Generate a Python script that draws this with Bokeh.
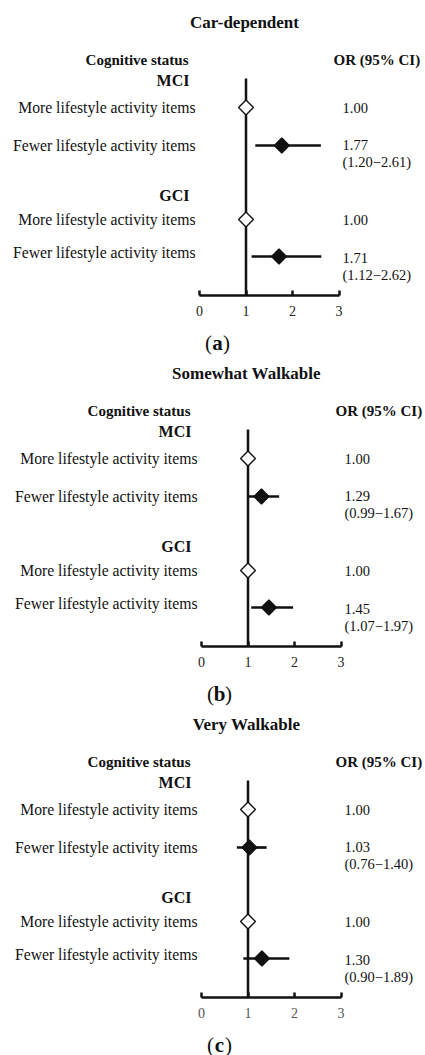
import math
from bokeh.plotting import figure
from bokeh.models import Range1d, LinearAxis, FixedTicker
from bokeh.layouts import column
from bokeh.core.properties import value
from bokeh.embed import file_html
from bokeh.resources import INLINE

# ---------------- data ----------------
panel_titles = ["Car-dependent", "Somewhat Walkable", "Very Walkable"]
panel_tags = ["a", "b", "c"]
group_names = ["MCI", "GCI"]
row_labels = ["More lifestyle activity items", "Fewer lifestyle activity items"]
header_left = "Cognitive status"
header_right = "OR (95% CI)"
ref_or = 1.00
mci_or = [1.77, 1.29, 1.03]
mci_lo = [1.20, 0.99, 0.76]
mci_hi = [2.61, 1.67, 1.40]
gci_or = [1.71, 1.45, 1.30]
gci_lo = [1.12, 1.07, 0.90]
gci_hi = [2.62, 1.97, 1.89]
x_ticks = [0, 1, 2, 3]

# ---------------- layout (pixels) ----------------
W = 425
FIG_H = [358, 351, 346]
Y_SHIFT = [0, 7, 7]        # panel-local px hidden above each figure's top edge
PX = 46.5                  # px per OR unit
X0_PX = [199, 201, 201]    # px of OR = 0 in each panel
Y_TITLE = 22
Y_HEAD = 59
Y_GROUP = [80, 195]
Y_LINE_TOP = 78
Y_MORE = [107, 219]
Y_FEWER_LBL = [145, 252]
Y_FEWER_MK = [145, 256]
Y_VAL = [144, 257]
CI_GAP = 17
AXIS_Y = 295
Y_TAG = 342

FONT = value("Liberation Serif")
INK = "#111111"


def build(i):
    H = FIG_H[i]
    xs = -X0_PX[i] / PX
    xe = xs + W / PX
    p = figure(width=W, height=H, x_range=Range1d(xs, xe),
               y_range=Range1d(H + Y_SHIFT[i], Y_SHIFT[i]),
               output_backend="svg", toolbar_location=None,
               x_axis_location=None, y_axis_location=None,
               min_border_left=0, min_border_right=0, min_border_top=0,
               min_border_bottom=0, outline_line_color=None,
               background_fill_color="white", border_fill_color="white")
    p.grid.visible = False

    ax = LinearAxis(ticker=FixedTicker(ticks=x_ticks), bounds=(x_ticks[0], x_ticks[-1]),
                    fixed_location=AXIS_Y,
                    axis_line_width=2.5, axis_line_color=INK,
                    major_tick_in=5, major_tick_out=0, major_tick_line_width=2.5,
                    major_tick_line_color=INK,
                    minor_tick_in=0, minor_tick_out=0,
                    major_label_text_font="Liberation Serif",
                    major_label_text_font_size="14px",
                    major_label_text_color="#222222" if i < 2 else "#555555",
                    major_label_standoff=10)
    p.add_layout(ax, "below")

    def dx(px):
        return px / PX

    # reference line
    p.segment(x0=[ref_or], y0=[Y_LINE_TOP], x1=[ref_or], y1=[AXIS_Y],
              line_width=2.5, line_color=INK)

    ors = [mci_or[i], gci_or[i]]
    los = [mci_lo[i], gci_lo[i]]
    his = [mci_hi[i], gci_hi[i]]

    # CI lines
    p.segment(x0=los, y0=Y_FEWER_MK, x1=his, y1=Y_FEWER_MK, line_width=2.7, line_color=INK)
    # reference markers (open)
    p.scatter(x=[ref_or, ref_or], y=Y_MORE, marker="square", angle=math.pi / 4, size=10.5,
              fill_color="white", line_color=INK, line_width=1.4)
    # estimate markers (filled)
    p.scatter(x=ors, y=Y_FEWER_MK, marker="square", angle=math.pi / 4, size=10.5,
              fill_color=INK, line_color=INK, line_width=1.4)

    # title
    p.text(x=[dx(45)], y=[Y_TITLE], text=[panel_titles[i]], text_font=FONT,
           text_font_size="17px", text_font_style="bold", text_align="center",
           text_baseline="middle", text_color=INK)
    # headers
    p.text(x=[dx(-11)], y=[Y_HEAD], text=[header_left], text_font=FONT,
           text_font_size="15px", text_font_style="bold", text_align="right",
           text_baseline="middle", text_color=INK)
    p.text(x=[dx(134)], y=[Y_HEAD], text=[header_right], text_font=FONT,
           text_font_size="15px", text_font_style="bold", text_align="left",
           text_baseline="middle", text_color=INK)
    p.text(x=[dx(-10)] * 2, y=Y_GROUP, text=group_names, text_font=FONT,
           text_font_size="16px", text_font_style="bold", text_align="right",
           text_baseline="middle", text_color=INK)
    # row labels
    p.text(x=[dx(-4)] * 4, y=Y_MORE + Y_FEWER_LBL,
           text=[row_labels[0]] * 2 + [row_labels[1]] * 2, text_font=FONT,
           text_font_size="15.7px", text_align="right", text_baseline="middle",
           text_color=INK)
    # values
    vx = dx(143)
    p.text(x=[vx] * 2, y=Y_MORE, text=[f"{ref_or:.2f}"] * 2, text_font=FONT,
           text_font_size="14.5px", text_align="left", text_baseline="middle", text_color=INK)
    p.text(x=[vx] * 2, y=Y_VAL, text=[f"{v:.2f}" for v in ors], text_font=FONT,
           text_font_size="14.5px", text_align="left", text_baseline="middle", text_color=INK)
    p.text(x=[vx] * 2, y=[y + CI_GAP for y in Y_VAL],
           text=[f"({l:.2f}\u2212{h:.2f})" for l, h in zip(los, his)], text_font=FONT,
           text_font_size="14.5px", text_align="left", text_baseline="middle", text_color=INK)

    # panel tag "(a)" below the axis
    tx = dx(18)
    common = dict(text_font=FONT, text_font_size="21px", text_baseline="middle",
                  text_color=INK)
    p.text(x=[tx], y=[Y_TAG], text=["("], text_align="right", x_offset=-5.5, **common)
    p.text(x=[tx], y=[Y_TAG], text=[panel_tags[i]], text_align="center",
           text_font_style="bold", **common)
    p.text(x=[tx], y=[Y_TAG], text=[")"], text_align="left", x_offset=5.5, **common)
    return p


figs = [build(i) for i in range(3)]
layout = column(*figs, spacing=0)
open("out.html", "w").write(file_html(layout, INLINE))
